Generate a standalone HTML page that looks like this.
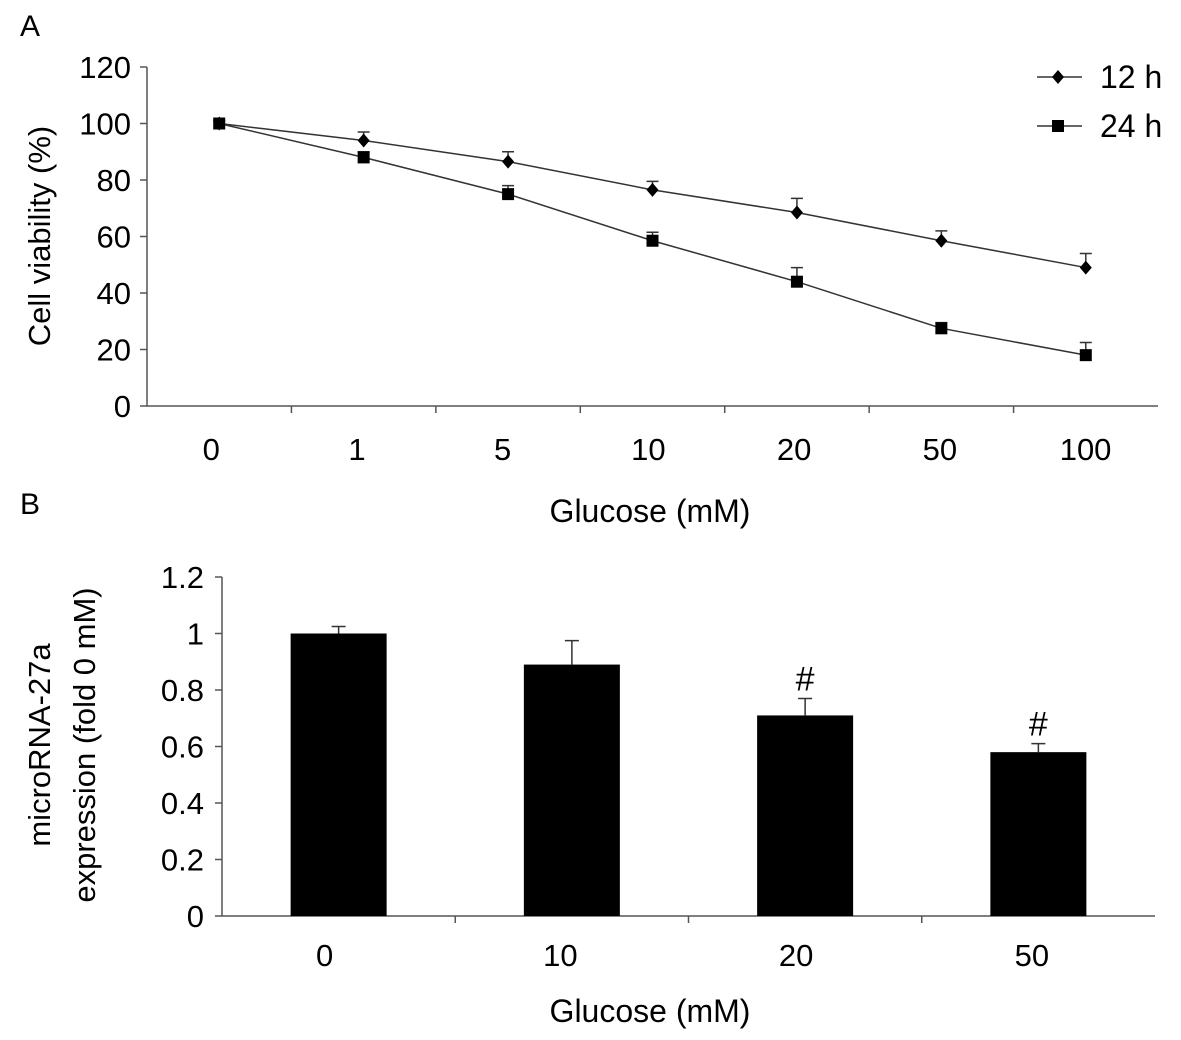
<!DOCTYPE html>
<html><head><meta charset="utf-8"><style>
body{margin:0;background:#fff}
svg{display:block;font-family:"Liberation Sans",Arial,sans-serif}
</style></head><body>
<svg id="chart" width="1181" height="1040" viewBox="0 0 1181 1040">
<g id="A"></g><g id="B"></g>
</svg>
<script>
const catsA=["0","1","5","10","20","50","100"];
const v12=[100,94,86.5,76.5,68.5,58.5,49];
const e12=[1,3,3.5,3,5,3.5,5];
const v24=[100,88,75,58.5,44,27.5,18];
const e24=[1,2,3,3,5,2,4.5];
const ticksA=[0,20,40,60,80,100,120];
const catsB=["0","10","20","50"];
const vB=[1.0,0.89,0.71,0.58];
const eB=[0.025,0.085,0.06,0.03];
const sigB=["","","#","#"];
const ticksB=["0","0.2","0.4","0.6","0.8","1","1.2"];

const NS="http://www.w3.org/2000/svg";
function el(p,t,a,txt){const e=document.createElementNS(NS,t);for(const k in a)e.setAttribute(k,a[k]);if(txt!==undefined)e.textContent=txt;p.appendChild(e);return e;}
// Panel A
const A=document.getElementById('A');
const ax0=147,ax1=1158,ay0=406,ay1=67;
const yA=v=>ay0-(v/120)*(ay0-ay1);
const bwA=(ax1-ax0)/catsA.length;
const xA=i=>ax0+bwA*(i+0.5);
let t=el(A,'text',{x:20,y:36,'font-size':30},'A');

let ln=el(A,'path',{d:`M${ax0},${ay1}V${ay0}H${ax1}`,stroke:'#555','stroke-width':1.5,fill:'none'});

ticksA.forEach(v=>{el(A,'line',{x1:ax0-7,x2:ax0,y1:yA(v),y2:yA(v),stroke:'#555','stroke-width':1.5});
 const tt=el(A,'text',{x:ax0-16,y:yA(v)+11,'font-size':31,'text-anchor':'end'},v);
 });
for(let i=1;i<catsA.length;i++)el(A,'line',{x1:ax0+bwA*i,x2:ax0+bwA*i,y1:ay0,y2:ay0+7,stroke:'#555','stroke-width':1.5});
catsA.forEach((c,i)=>{const tt=el(A,'text',{x:xA(i)-8+i*1.3,y:460,'font-size':31,'text-anchor':'middle'},c);
 });
t=el(A,'text',{x:650,y:522,'font-size':32,'text-anchor':'middle'},'Glucose (mM)');

t=el(A,'text',{x:0,y:0,'font-size':31,'text-anchor':'middle',transform:'translate(50,236) rotate(-90)'},'Cell viability (%)');

function series(vals,errs,shape,name){
 const g=el(A,'g',{});
 el(g,'polyline',{points:vals.map((v,i)=>`${xA(i)},${yA(v)}`).join(' '),fill:'none',stroke:'#333','stroke-width':1.5});
 vals.forEach((v,i)=>{const x=xA(i),y=yA(v),ye=yA(v+errs[i]);
  el(g,'path',{d:`M${x},${y}V${ye}M${x-6},${ye}H${x+6}`,stroke:'#333','stroke-width':1.5,fill:'none'});
  let m;
  if(shape==='d')m=el(g,'path',{d:`M${x},${y-7}L${x+6},${y}L${x},${y+7}L${x-6},${y}Z`,fill:'#000'});
  else m=el(g,'rect',{x:x-6,y:y-6,width:12,height:12,fill:'#000'});
  });
}
series(v12,e12,'d','series-12h');series(v24,e24,'s','series-24h');
function leg(y,shape,label){const g=el(A,'g',{});
 el(g,'line',{x1:1037,x2:1082,y1:y,y2:y,stroke:'#333','stroke-width':1.5});
 if(shape==='d')el(g,'path',{d:`M1058,${y-7}L1064,${y}L1058,${y+7}L1052,${y}Z`});else el(g,'rect',{x:1052,y:y-6,width:12,height:12});
 el(g,'text',{x:1100,y:y+11,'font-size':32},label);}
leg(77,'d','12 h');leg(126,'s','24 h');
// Panel B
const B=document.getElementById('B');
const bx0=222,bx1=1155,by0=916,by1=577;
const yB=v=>by0-(v/1.2)*(by0-by1);
const bwB=(bx1-bx0)/catsB.length;
const xB=i=>bx0+bwB*(i+0.5);
t=el(B,'text',{x:20,y:514,'font-size':30},'B');

ln=el(B,'path',{d:`M${bx0},${by1}V${by0}H${bx1}`,stroke:'#555','stroke-width':1.5,fill:'none'});

ticksB.forEach(s=>{const v=parseFloat(s);el(B,'line',{x1:bx0-7,x2:bx0,y1:yB(v),y2:yB(v),stroke:'#555','stroke-width':1.5});
 const tt=el(B,'text',{x:bx0-18,y:yB(v)+11,'font-size':31,'text-anchor':'end'},s);
 });
for(let i=1;i<catsB.length;i++)el(B,'line',{x1:bx0+bwB*i,x2:bx0+bwB*i,y1:by0,y2:by0+7,stroke:'#555','stroke-width':1.5});
catsB.forEach((c,i)=>{const tt=el(B,'text',{x:xB(i)-14+i*2.5,y:966,'font-size':31,'text-anchor':'middle'},c);
 });
vB.forEach((v,i)=>{const x=xB(i),w=96,ye=yB(v+eB[i]);
 el(B,'path',{d:`M${x},${yB(v)}V${ye}M${x-7},${ye}H${x+7}`,stroke:'#333','stroke-width':1.5,fill:'none'});
 const r=el(B,'rect',{x:x-w/2,y:yB(v),width:w,height:by0-yB(v),fill:'#000'});
 
 if(sigB[i]){const s=el(B,'text',{x:x,y:ye-8,'font-size':34,'text-anchor':'middle'},sigB[i]);
  }});
t=el(B,'text',{x:650,y:1022,'font-size':32,'text-anchor':'middle'},'Glucose (mM)');

t=el(B,'text',{x:0,y:0,'font-size':31,'text-anchor':'middle',transform:'translate(50,745) rotate(-90)'},'microRNA-27a');

t=el(B,'text',{x:0,y:0,'font-size':31,'text-anchor':'middle',transform:'translate(95,745) rotate(-90)'},'expression (fold 0 mM)');

</script>
</body></html>
